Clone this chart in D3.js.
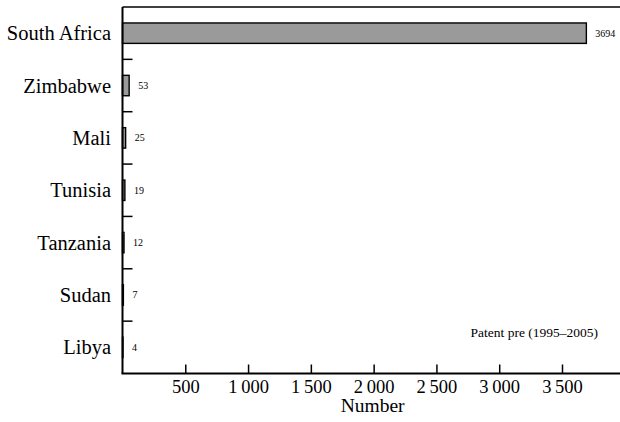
<!DOCTYPE html>
<html>
<head>
<meta charset="utf-8">
<script src="https://cdn.jsdelivr.net/npm/d3@7"></script>
<style>
  html, body { margin: 0; padding: 0; background: #fff; }
  svg { display: block; }
</style>
</head>
<body>
<svg id="chart" width="620" height="422"></svg>
<script>
// Patent counts per country, 1995–2005
const countries = ["South Africa", "Zimbabwe", "Mali", "Tunisia", "Tanzania", "Sudan", "Libya"];
const patents = [3694, 53, 25, 19, 12, 7, 4];
const xTicks = [500, 1000, 1500, 2000, 2500, 3000, 3500];
const xTitle = "Number";
const note = "Patent pre (1995\u20132005)";

const serif = "'Liberation Serif', 'Times New Roman', serif";
const svg = d3.select("#chart").attr("font-family", serif);
const plotLeft = 122.5, plotTop = 7, plotBottom = 373.5, plotRight = 620;

const x = d3.scaleLinear().domain([0, 3500]).range([plotLeft, 562]);
const y = d3.scaleBand().domain(countries).range([plotTop, plotBottom]);

const fmt = d3.formatLocale({ decimal: ".", thousands: "\u2009", grouping: [3], currency: ["", ""] }).format(",d");

// bars
const barH = y.bandwidth() * 0.39;
svg.append("g").selectAll("rect")
  .data(countries)
  .join("rect")
  .attr("x", x(0))
  .attr("y", d => y(d) + y.bandwidth() / 2 - barH / 2)
  .attr("width", (d, i) => x(patents[i]) - x(0))
  .attr("height", barH)
  .attr("fill", "#9a9a9a")
  .attr("stroke", "#000")
  .attr("stroke-width", 1.4);

// value labels
svg.append("g").selectAll("text")
  .data(countries)
  .join("text")
  .attr("x", (d, i) => x(patents[i]) + 9)
  .attr("y", d => y(d) + y.bandwidth() / 2)
  .attr("dy", "0.35em")
  .attr("font-family", serif)
  .attr("font-size", 10)
  .text((d, i) => patents[i]);

// top frame line
svg.append("line")
  .attr("x1", plotLeft).attr("x2", plotRight)
  .attr("y1", plotTop).attr("y2", plotTop)
  .attr("stroke", "#000").attr("stroke-width", 1.5);

// y axis with inward ticks at band boundaries
const yBounds = countries.map(d => y(d)).slice(1);
const yg = svg.append("g");
yg.append("line")
  .attr("x1", plotLeft).attr("x2", plotLeft)
  .attr("y1", plotTop).attr("y2", plotBottom)
  .attr("stroke", "#000").attr("stroke-width", 2);
yg.selectAll("line.tick")
  .data(yBounds)
  .join("line")
  .attr("class", "tick")
  .attr("x1", plotLeft).attr("x2", plotLeft + 10)
  .attr("y1", d => d).attr("y2", d => d)
  .attr("stroke", "#000").attr("stroke-width", 1.5);
yg.selectAll("text")
  .data(countries)
  .join("text")
  .attr("x", 111)
  .attr("y", d => y(d) + y.bandwidth() / 2)
  .attr("dy", "0.35em")
  .attr("text-anchor", "end")
  .attr("font-family", serif)
  .attr("font-size", 20.5)
  .text(d => d);

// x axis with inward ticks
const xAxis = d3.axisBottom(x).tickValues(xTicks).tickSizeInner(-9).tickSizeOuter(0).tickPadding(6).tickFormat(fmt);
const xg = svg.append("g").attr("transform", `translate(0,${plotBottom})`).call(xAxis);
xg.attr("font-family", serif).attr("font-size", 18.5);
xg.select(".domain").remove();
xg.selectAll(".tick line").attr("stroke", "#000").attr("stroke-width", 1.5);
xg.selectAll(".tick text").attr("fill", "#000");
svg.append("line")
  .attr("x1", plotLeft - 1).attr("x2", plotRight)
  .attr("y1", plotBottom).attr("y2", plotBottom)
  .attr("stroke", "#000").attr("stroke-width", 2);

svg.append("text")
  .attr("x", x(2000) - 1)
  .attr("y", 412)
  .attr("text-anchor", "middle")
  .attr("font-family", serif)
  .attr("font-size", 19.5)
  .text(xTitle);

svg.append("text")
  .attr("x", 598)
  .attr("y", 337)
  .attr("text-anchor", "end")
  .attr("font-family", serif)
  .attr("font-size", 13.5)
  .text(note);
</script>
</body>
</html>
